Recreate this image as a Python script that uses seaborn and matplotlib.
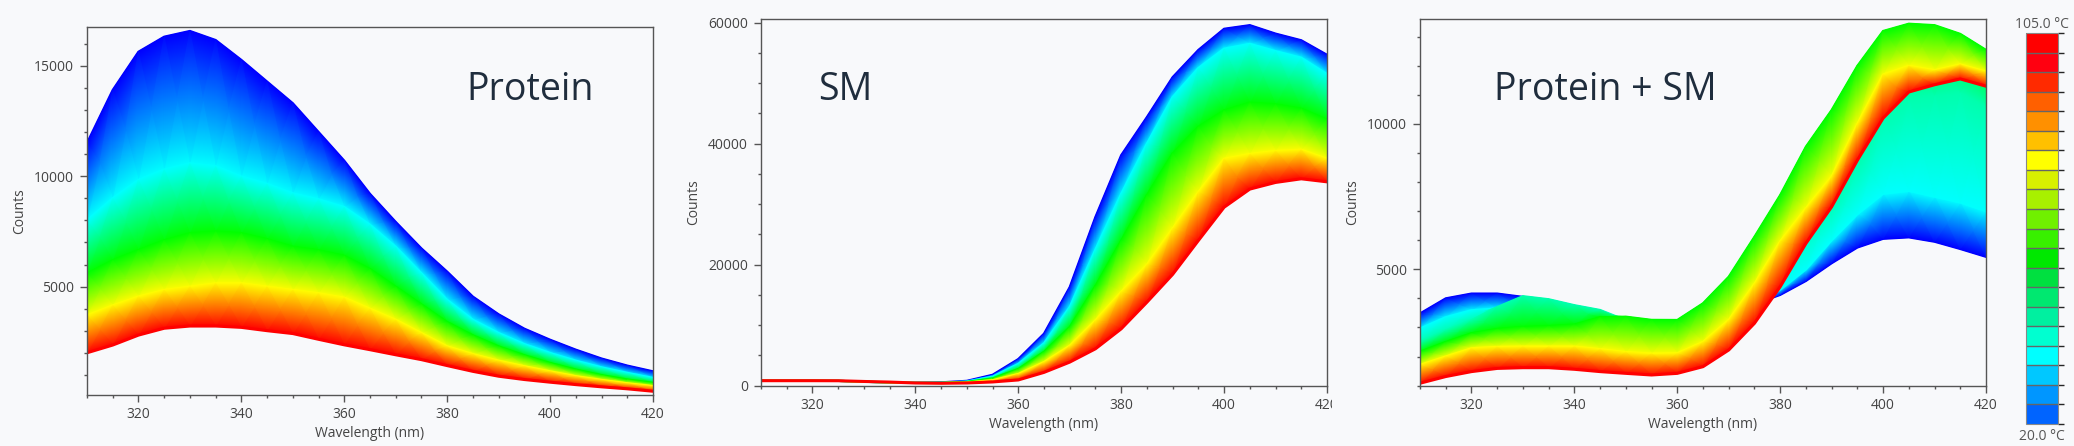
import numpy as np
import matplotlib
matplotlib.use('Agg')
import matplotlib.pyplot as plt
import seaborn as sns
from matplotlib.colors import LinearSegmentedColormap, ListedColormap, BoundaryNorm, Normalize
from matplotlib.cm import ScalarMappable
from matplotlib.ticker import MultipleLocator, FixedLocator
from matplotlib.transforms import Bbox, TransformedBbox

# wavelength grid (nm)
wavelength = [310, 315, 320, 325, 330, 335, 340, 345, 350, 355, 360, 365,
              370, 375, 380, 385, 390, 395, 400, 405, 410, 415, 420]

# Protein: spectra at a few temperatures (deg C)
protein_temps = [20, 41.25, 62.5, 83.75, 105]
protein_t20 = [11500, 13900, 15630, 16310, 16570, 16160, 15260, 14280, 13300, 12000, 10700, 9200,
               7930, 6730, 5680, 4550, 3750, 3100, 2600, 2150, 1750, 1430, 1170]
protein_t41 = [8000, 9000, 9830, 10300, 10580, 10450, 9980, 9650, 9220, 8950, 8600, 7800,
               6800, 5600, 4400, 3500, 2900, 2400, 2000, 1650, 1350, 1100, 870]
protein_t62 = [5600, 6200, 6660, 7100, 7420, 7500, 7420, 7150, 6810, 6650, 6400, 5800,
               5000, 4200, 3400, 2800, 2300, 1900, 1550, 1250, 1000, 800, 650]
protein_t84 = [3700, 4150, 4550, 4850, 5000, 5150, 5150, 5000, 4850, 4700, 4500, 4000,
               3500, 2900, 2300, 1950, 1650, 1400, 1170, 950, 780, 630, 500]
protein_t105 = [2010, 2360, 2810, 3120, 3220, 3220, 3160, 3010, 2880, 2620, 2370, 2150,
                1920, 1700, 1430, 1170, 950, 800, 680, 570, 470, 380, 270]

# SM
sm_temps = [20, 41.25, 62.5, 83.75, 105]
sm_t20 = [820, 820, 820, 800, 650, 550, 500, 550, 800, 1800, 4400, 8600,
          16300, 27900, 38100, 44400, 51000, 55500, 59000, 59600, 58200, 57100, 54700]
sm_t41 = [820, 820, 820, 800, 650, 550, 480, 500, 700, 1500, 3600, 7000,
          13000, 22500, 31700, 40000, 47700, 52500, 55700, 56500, 55300, 54200, 51500]
sm_t62 = [820, 820, 820, 800, 650, 540, 470, 480, 620, 1200, 2760, 5600,
          9700, 16500, 24000, 31500, 38400, 42800, 45500, 46800, 46500, 45800, 44000]
sm_t84 = [820, 820, 820, 800, 660, 560, 460, 440, 520, 900, 1930, 3900,
          6600, 10800, 15500, 20000, 26000, 32000, 37500, 38300, 38800, 39000, 37500]
sm_t105 = [830, 830, 830, 820, 700, 600, 450, 400, 450, 620, 950, 2200,
           3900, 6100, 9400, 13800, 18400, 24000, 29500, 32500, 33600, 34200, 33700]

# Protein + SM
psm_temps = [20, 41.25, 48, 62.5, 83.75, 105]
psm_t20 = [3480, 4000, 4165, 4165, 4050, 3850, 3650, 3450, 3250, 3100, 3050, 3150,
           3450, 3800, 4120, 4600, 5210, 5750, 6050, 6100, 5950, 5700, 5430]
psm_t41 = [2960, 3350, 3590, 3650, 3600, 3500, 3400, 3300, 3150, 3050, 3000, 3100,
           3400, 3800, 4300, 5000, 6000, 6900, 7600, 7700, 7500, 7300, 7000]
psm_t48 = [2510, 2900, 3250, 3700, 4075, 3970, 3765, 3600, 3250, 3150, 3100, 3500,
           4300, 5200, 6000, 6600, 7300, 8700, 10300, 10900, 11000, 11100, 10600]
psm_t62 = [2165, 2500, 2800, 2950, 3020, 3050, 3100, 3350, 3370, 3260, 3256, 3830,
           4745, 6120, 7555, 9220, 10480, 12000, 13200, 13450, 13400, 13100, 12550]
psm_t84 = [1710, 2000, 2280, 2330, 2340, 2340, 2340, 2250, 2150, 2100, 2110, 2500,
           3256, 4500, 5960, 7100, 8190, 10000, 11700, 12000, 11850, 12050, 11800]
psm_t105 = [1080, 1310, 1480, 1590, 1615, 1615, 1560, 1480, 1420, 1364, 1420, 1650,
            2224, 3142, 4400, 5890, 7150, 8750, 10200, 11100, 11350, 11550, 11300]

# legend swatches, bottom (20 C) to top (105 C)
cbar_colors = ['#0064ff', '#0096ff', '#00c8ff', '#00ffff', '#00ffd0', '#00f0a0', '#00e870',
               '#00e040', '#00e800', '#38f000', '#70f000', '#a8f000', '#d8f000', '#ffff00',
               '#ffc000', '#ff9000', '#ff6000', '#ff2a00', '#ff0010', '#ff0000']

BG = '#f8f9fb'
sns.set_theme(style='ticks')
plt.rcParams['font.family'] = ['Open Sans', 'DejaVu Sans']
plt.rcParams['axes.facecolor'] = BG
plt.rcParams['figure.facecolor'] = BG

cmap = LinearSegmentedColormap.from_list('spec', ['#0000ff', '#00ffff', '#00ff00', '#ffff00', '#ff0000'])
norm = Normalize(20, 105)

W, H = 2074, 446
fig = plt.figure(figsize=(W / 100, H / 100), dpi=100)
ax1 = fig.add_axes([87 / W, (H - 395) / H, 566 / W, 368 / H])
ax2 = fig.add_axes([761 / W, (H - 386) / H, 566 / W, 367.5 / H])
ax3 = fig.add_axes([1420 / W, (H - 386) / H, 566 / W, 367.5 / H])


def draw_panel(ax, temps, curves):
    n = len(wavelength)
    last = len(temps) - 1
    for i, (t, y) in enumerate(zip(temps, curves)):
        sns.lineplot(x=wavelength, y=y, color=cmap(norm(t)), lw=2.2 if i == last else 1.6,
                     ax=ax, zorder=1 + 0.2 * i)
        if i > 0:
            X = np.vstack([wavelength, wavelength])
            Y = np.vstack([curves[i - 1], y])
            C = np.vstack([np.full(n, temps[i - 1]), np.full(n, t)])
            ax.pcolormesh(X, Y, C, shading='gouraud', cmap=cmap, norm=norm, zorder=0.9 + 0.2 * i)


draw_panel(ax1, protein_temps, [protein_t20, protein_t41, protein_t62, protein_t84, protein_t105])
draw_panel(ax2, sm_temps, [sm_t20, sm_t41, sm_t62, sm_t84, sm_t105])
draw_panel(ax3, psm_temps, [psm_t20, psm_t41, psm_t48, psm_t62, psm_t84, psm_t105])

limits = [(ax1, (100, 16750), 5000, 1000),
          (ax2, (-50, 60700), 20000, 5000),
          (ax3, (985, 13630), 5000, 1000)]
for ax, ylim, major, minor in limits:
    ax.set_xlim(310, 420)
    ax.set_ylim(*ylim)
    ax.xaxis.set_major_locator(FixedLocator([320, 340, 360, 380, 400, 420]))
    ax.xaxis.set_minor_locator(MultipleLocator(5))
    ax.yaxis.set_major_locator(MultipleLocator(major))
    ax.yaxis.set_minor_locator(MultipleLocator(minor))
    ax.tick_params(which='major', length=5, width=1, color='#555', labelsize=10, labelcolor='#444')
    ax.tick_params(which='minor', length=2.5, width=1, color='#555')
    ax.tick_params(axis='y', which='major', pad=4.5)
    for s in ax.spines.values():
        s.set_color('#555')
        s.set_linewidth(1)
    ax.set_xlabel('Wavelength (nm)', fontsize=10, color='#444', labelpad=3)
    ax.set_ylabel('Counts', fontsize=10, color='#444', labelpad=5)

title_kw = dict(fontsize=27, color='#1f2d3d', va='baseline', ha='left')
ax1.text(0.670, 0.8016, 'Protein', transform=ax1.transAxes, **title_kw)
ax2.text(0.1007, 0.778, 'SM', transform=ax2.transAxes, **title_kw)
ax3.text(0.130, 0.778, 'Protein + SM', transform=ax3.transAxes, **title_kw)

# temperature legend bar
cax = fig.add_axes([2026 / W, (H - 424) / H, 32 / W, 391 / H])
bounds = np.linspace(20, 105, len(cbar_colors) + 1)
cb = fig.colorbar(ScalarMappable(norm=BoundaryNorm(bounds, len(cbar_colors)),
                                 cmap=ListedColormap(cbar_colors)),
                  cax=cax, drawedges=True)
cb.dividers.set_color('#666')
cb.dividers.set_linewidth(1)
cb.outline.set_edgecolor('#888')
cb.outline.set_linewidth(0.8)
cb.set_ticks([])
fig.text(2042 / W, 1 - 25 / H, '105.0 °C', ha='center', va='center', fontsize=10, color='#555')
fig.text(2042 / W, 1 - 436 / H, '20.0 °C', ha='center', va='center', fontsize=10, color='#555')

# the middle panel's last tick label is cut by the next panel in the source
fig.canvas.draw()
clip = TransformedBbox(Bbox.from_extents(0, 0, 1332 / W, 1), fig.transFigure)
for lbl in ax2.get_xticklabels():
    lbl.set_clip_box(clip)
    lbl.set_clip_on(True)

fig.savefig('out.png', dpi=100, facecolor=BG)
